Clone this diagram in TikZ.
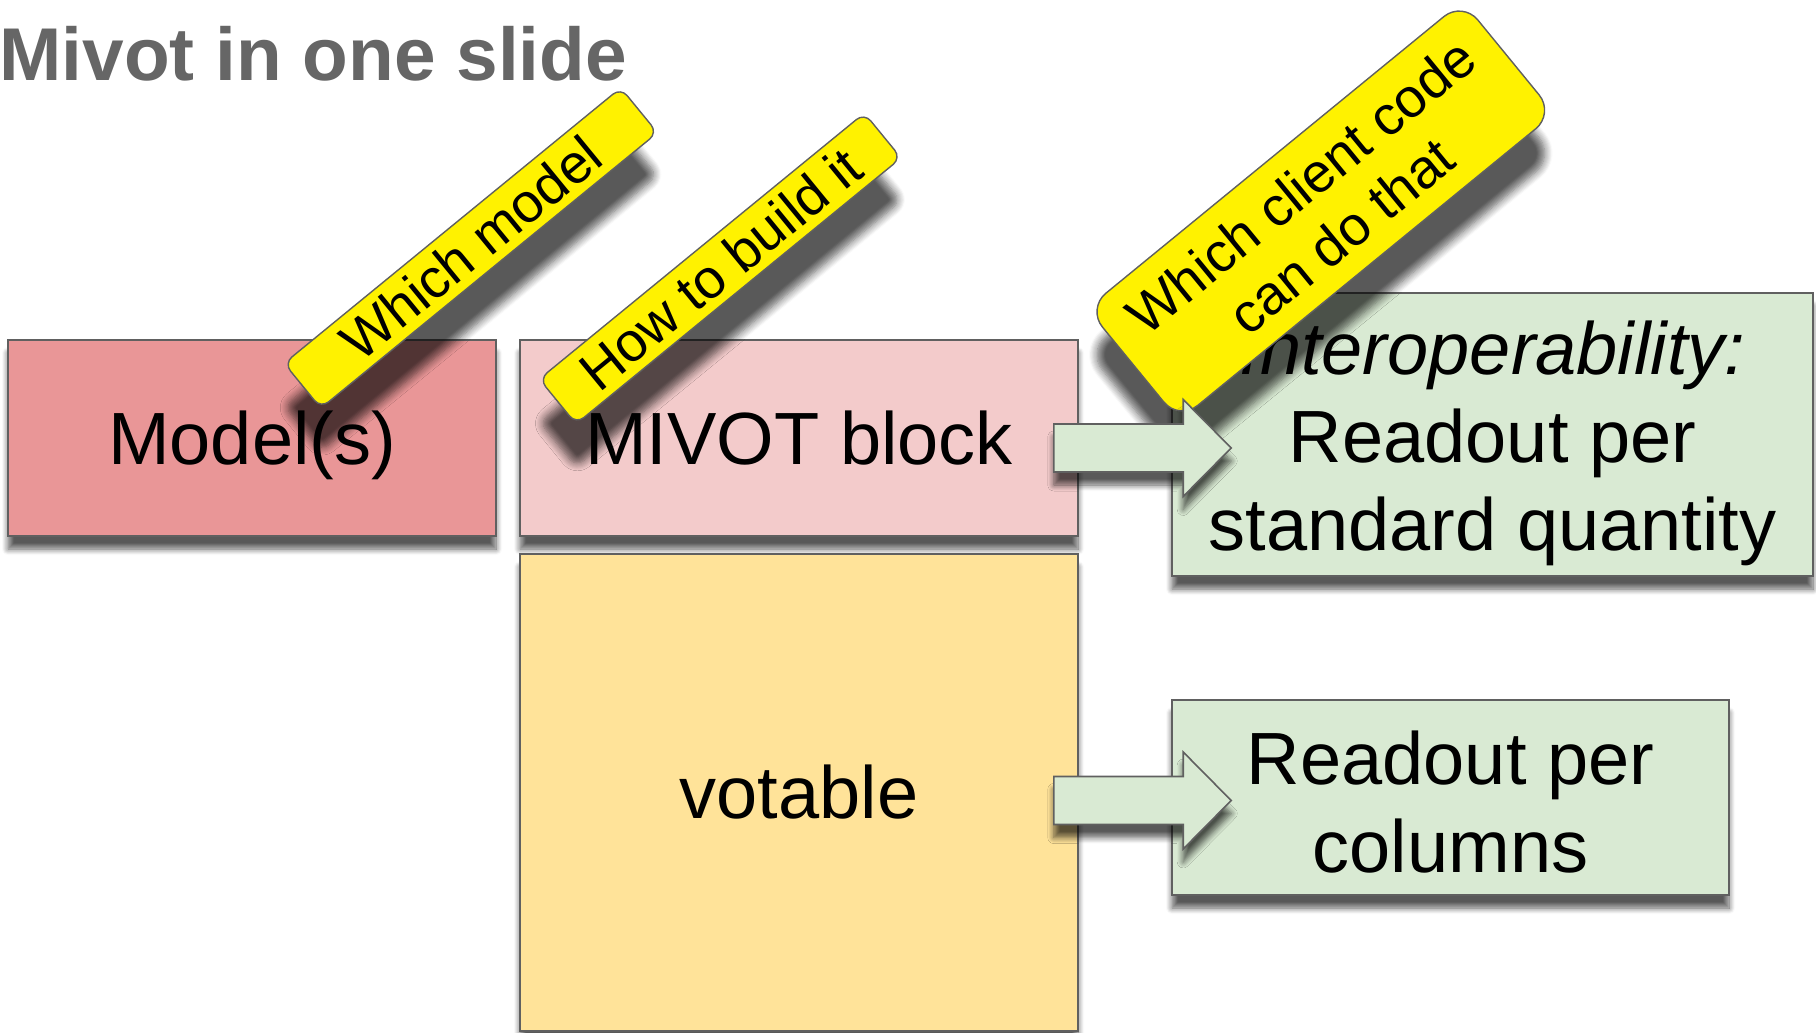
\documentclass[tikz,border=0pt]{standalone}
\usepackage{fontspec}
\setmainfont{Liberation Sans}
\usetikzlibrary{shadows.blur,calc}
\definecolor{modelred}{RGB}{233,150,151}
\definecolor{mivotpink}{RGB}{243,203,203}
\definecolor{tableyellow}{RGB}{255,227,153}
\definecolor{readgreen}{RGB}{217,234,211}
\definecolor{framegray}{RGB}{96,96,96}
\definecolor{titlegray}{RGB}{102,102,102}
\begin{document}
\begin{tikzpicture}[x=0.5pt,y=-0.5pt,
  box/.style={draw=framegray, line width=0.8pt, inner sep=0pt, align=center,
    font=\fontsize{37}{44}\selectfont,
    blur shadow={shadow xshift=0pt, shadow yshift=-6.5pt, shadow blur radius=3pt,
      shadow opacity=65, shadow blur steps=8}},
  note/.style={draw=framegray, line width=0.7pt, fill=yellow, rounded corners=5pt,
    rotate=39.3, inner sep=0pt, align=center,
    font=\fontsize{27.5}{32}\selectfont,
    blur shadow={shadow xshift=0pt, shadow yshift=-21.5pt, shadow blur radius=4pt,
      shadow opacity=65, shadow blur steps=8}},
  blockarrow/.style={draw=framegray, line width=0.8pt, fill=readgreen, line join=miter,
    blur shadow={shadow xshift=0pt, shadow yshift=-6.5pt, shadow blur radius=3pt,
      shadow opacity=65, shadow blur steps=8}}]
\useasboundingbox (0,0) rectangle (1816,1033);

% title
\node[anchor=base west, inner sep=0pt, text=titlegray,
  font={\fontsize{37.4}{44}\selectfont\bfseries}] (title) at (-1,80.5) {Mivot in one slide};

% main blocks
\node[box, fill=modelred, minimum width=244pt, minimum height=98pt, text depth=0pt] (model) at (252,438) {Model(s)};
\node[box, fill=mivotpink, minimum width=279pt, minimum height=98pt] (mivot) at (799,438) {MIVOT block};
\node[box, fill=tableyellow, minimum width=279pt, minimum height=238.5pt] (votable) at (799,792.5) {votable};
\node[box, fill=readgreen, minimum width=320.5pt, minimum height=141.5pt, text depth=0pt] (interop) at (1492.5,434.5)
  {\rule{0pt}{28pt}\textit{Interoperability:}\\Readout per\\standard quantity};
\node[box, fill=readgreen, minimum width=278.5pt, minimum height=97.5pt] (columns) at (1450.5,797.5)
  {\rule{0pt}{31pt}Readout per\\columns};

% tilted notes
\node[note, minimum width=217.5pt, minimum height=29pt] (whichmodel) at (470.8,248) {Which model};
\node[note, minimum width=210pt, minimum height=29pt] (howbuild) at (720.2,268.5) {How to build it};
\node[note, rounded corners=12pt, minimum width=242.5pt, minimum height=72.5pt] (whichclient)
  at (1320.8,211) {Which client code\\can do that};

% block arrows
\coordinate (a1s) at ($(mivot.east)+(-25,10)$);
\coordinate (a1t) at ($(interop.west)+(60,13.5)$);
\coordinate (a2s) at ($(votable.east)+(-25,8)$);
\coordinate (a2t) at ($(columns.west)+(60,3)$);

\draw[blockarrow] ($(a1s)+(0,-24)$) -- ($(a1t)+(-48,-24)$) -- ($(a1t)+(-48,-48.5)$) -- (a1t)
  -- ($(a1t)+(-48,48.5)$) -- ($(a1t)+(-48,24)$) -- ($(a1s)+(0,24)$) -- cycle;
\draw[blockarrow] ($(a2s)+(0,-24)$) -- ($(a2t)+(-48,-24)$) -- ($(a2t)+(-48,-48.5)$) -- (a2t)
  -- ($(a2t)+(-48,48.5)$) -- ($(a2t)+(-48,24)$) -- ($(a2s)+(0,24)$) -- cycle;
\end{tikzpicture}
\end{document}
